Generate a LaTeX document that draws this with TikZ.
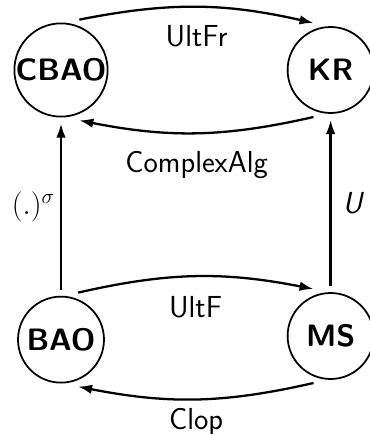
\documentclass[tikz,border=0pt]{standalone}
\usepackage{fontspec}
\usetikzlibrary{positioning,arrows.meta}
\begin{document}
\begin{tikzpicture}[
  node distance=3.32cm,
  every node/.style={font=\sffamily\fontsize{17.3}{20}\selectfont},
  cat/.style={circle, draw, line width=1pt, minimum size=1.72cm, inner sep=0pt,
    outer sep=0.14cm, font=\sffamily\bfseries\fontsize{17.6}{20}\selectfont},
  functor/.style={draw, line width=1.3pt, -{Latex[length=2.8mm,width=1.9mm]}}
]
\useasboundingbox (-1.22,1.40) rectangle (6.18,-7.28);

\node[cat] (CBAO) {CBAO};
\node[cat, right=of CBAO] (KR) {KR};
\node[cat, below=of CBAO] (BAO) {BAO};
\node[cat, below=of KR] (MS) {MS};

\draw[functor] (CBAO.70) to[bend left=12] node[below=0.22cm] {UltFr} (KR.110);
\draw[functor] (KR.250) to[bend left=12] node[below=0.22cm] {ComplexAlg} (CBAO.290);
\draw[functor] (BAO.70) to[bend left=12] node[below=0.26cm] {UltF} (MS.110);
\draw[functor] (MS.250) to[bend left=12] node[below=0.05cm] {Clop} (BAO.290);

\draw[functor] (BAO) -- node[left=-0.02cm] {$(.)^\sigma$} (CBAO);
\draw[functor] (MS) -- node[right=0.1cm] {\itshape U} (KR);

\end{tikzpicture}
\end{document}
